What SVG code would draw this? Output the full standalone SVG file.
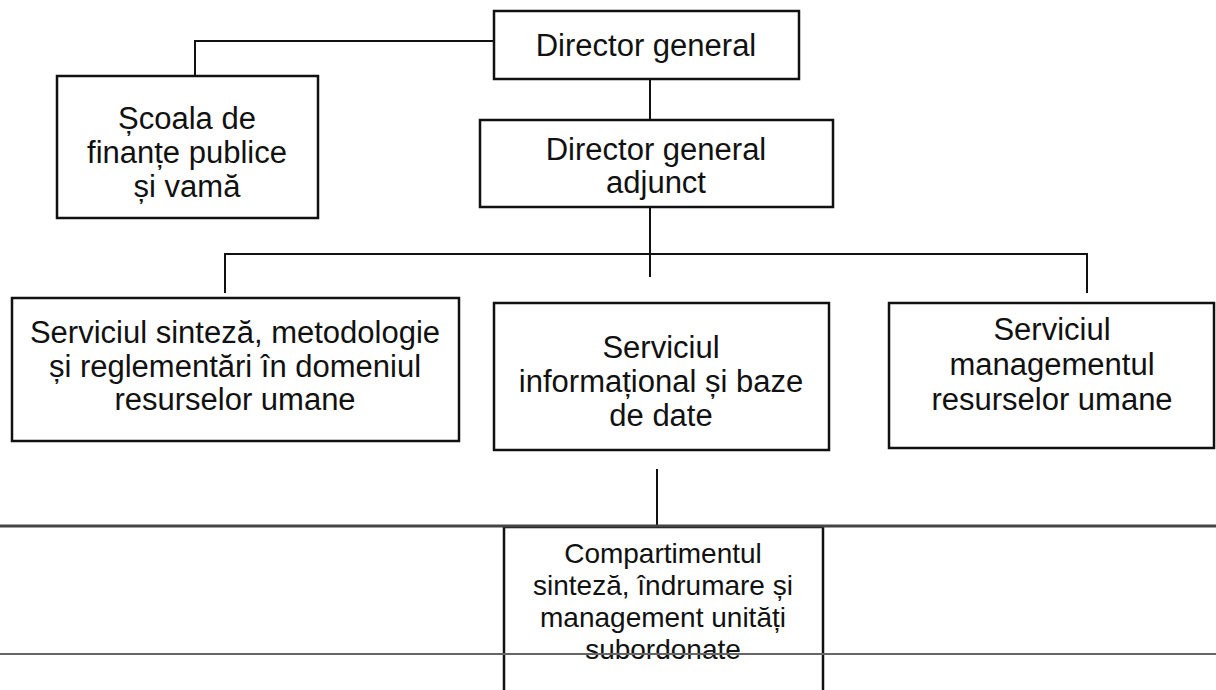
<svg xmlns="http://www.w3.org/2000/svg" width="1216" height="690" viewBox="0 0 1216 690">
<style>
.box{fill:none;stroke:#111;stroke-width:2.5}
.ln{fill:none;stroke:#111;stroke-width:2}
.t{font-family:"Liberation Sans",Arial,sans-serif;font-size:31px;fill:#111;text-anchor:middle}
.s{font-size:28px}
</style>
<rect width="1216" height="690" fill="#fff"/>
<g id="n-director-general">
<rect class="box" x="494" y="11" width="305" height="68"/>
<text class="t" x="646" y="56">Director general</text>
</g>
<g id="n-scoala">
<rect class="box" x="57" y="76" width="261" height="142"/>
<text class="t" x="187" y="129">Școala de</text>
<text class="t" x="187" y="163">finanțe publice</text>
<text class="t" x="187" y="197">și vamă</text>
</g>
<g id="n-director-adjunct">
<rect class="box" x="480" y="120" width="353" height="87"/>
<text class="t" x="656" y="160">Director general</text>
<text class="t" x="656" y="193">adjunct</text>
</g>
<g id="n-serviciul-sinteza">
<rect class="box" x="12" y="298" width="447" height="143"/>
<text class="t" x="235" y="343">Serviciul sinteză, metodologie</text>
<text class="t" x="235" y="377">și reglementări în domeniul</text>
<text class="t" x="235" y="410">resurselor umane</text>
</g>
<g id="n-serviciul-informational">
<rect class="box" x="494" y="303" width="335" height="147"/>
<text class="t" x="661" y="358">Serviciul</text>
<text class="t" x="661" y="392">informațional și baze</text>
<text class="t" x="661" y="426">de date</text>
</g>
<g id="n-serviciul-management">
<rect class="box" x="889" y="303" width="325" height="145"/>
<text class="t" x="1052" y="340">Serviciul</text>
<text class="t" x="1052" y="375">managementul</text>
<text class="t" x="1052" y="410">resurselor umane</text>
</g>
<g id="n-compartimentul">
<rect class="box" x="504" y="527" width="319" height="180"/>
<text class="t s" x="663" y="563">Compartimentul</text>
<text class="t s" x="663" y="595">sinteză, îndrumare și</text>
<text class="t s" x="663" y="627">management unități</text>
<text class="t s" x="663" y="659">subordonate</text>
</g>
<g id="connectors">
<polyline class="ln" points="494,41 195,41 195,76"/>
<line class="ln" x1="650" y1="79" x2="650" y2="120"/>
<line class="ln" x1="650" y1="207" x2="650" y2="277"/>
<polyline class="ln" points="225,293 225,254 1087,254 1087,293"/>
<line class="ln" x1="657" y1="469" x2="657" y2="526"/>
<line x1="0" y1="526" x2="1216" y2="526" stroke="#444" stroke-width="3"/>
<line x1="0" y1="654" x2="1216" y2="654" stroke="#666" stroke-width="2"/>
</g>
</svg>
